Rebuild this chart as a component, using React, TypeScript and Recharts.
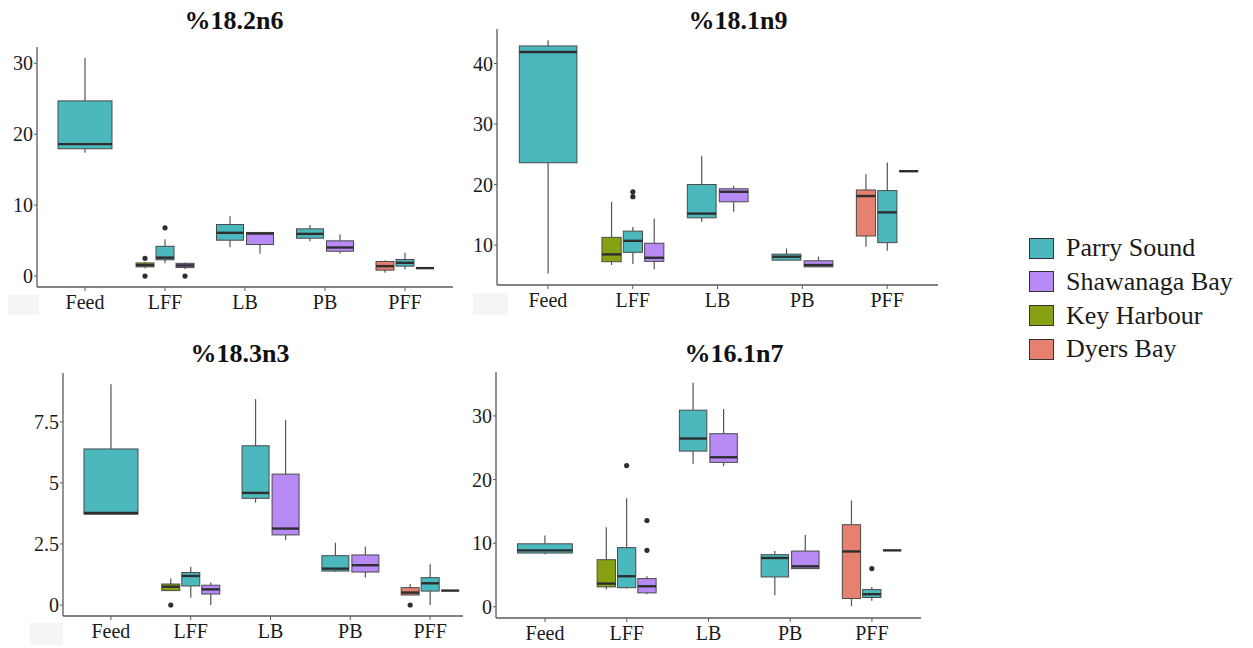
import React from 'react';
import { ComposedChart, Bar, XAxis, YAxis } from 'recharts';

// ---------- data ----------
const categories = ['Feed', 'LFF', 'LB', 'PB', 'PFF'];
const groups = ['Dyers Bay', 'Key Harbour', 'Parry Sound', 'Shawanaga Bay'];
const legendOrder = ['Parry Sound', 'Shawanaga Bay', 'Key Harbour', 'Dyers Bay'];
const panelTitles = ['%18.2n6', '%18.1n9', '%18.3n3', '%16.1n7'];

// [category, group, lowerWhisker, q1, median, q3, upperWhisker, outliers]
type BoxRow = [string, string, number, number, number, number, number, number[]];

const box18_2n6: BoxRow[] = [
  ['Feed', 'Parry Sound', 17.4, 17.95, 18.6, 24.7, 30.8, []],
  ['LFF', 'Key Harbour', 1.1, 1.3, 1.55, 1.85, 2.0, [2.5, 0]],
  ['LFF', 'Parry Sound', 1.8, 2.3, 2.6, 4.2, 5.2, [6.8]],
  ['LFF', 'Shawanaga Bay', 1.0, 1.2, 1.5, 1.8, 1.9, [0]],
  ['LB', 'Parry Sound', 4.08, 5.06, 6.1, 7.27, 8.44, []],
  ['LB', 'Shawanaga Bay', 3.14, 4.45, 6.0, 6.15, 6.15, []],
  ['PB', 'Parry Sound', 4.9, 5.34, 5.95, 6.66, 7.2, []],
  ['PB', 'Shawanaga Bay', 3.2, 3.5, 4.03, 4.97, 5.86, []],
  ['PFF', 'Dyers Bay', 0.47, 0.84, 1.4, 2.06, 2.2, []],
  ['PFF', 'Parry Sound', 0.94, 1.4, 1.87, 2.34, 3.28, []],
  ['PFF', 'Shawanaga Bay', 1.12, 1.12, 1.12, 1.12, 1.12, []],
];

const box18_1n9: BoxRow[] = [
  ['Feed', 'Parry Sound', 5.3, 23.6, 41.9, 42.9, 43.85, []],
  ['LFF', 'Key Harbour', 6.7, 7.25, 8.46, 11.27, 17.15, []],
  ['LFF', 'Parry Sound', 6.86, 8.8, 10.7, 12.3, 13.0, [18.8, 18.0]],
  ['LFF', 'Shawanaga Bay', 6.0, 7.3, 7.9, 10.3, 14.4, []],
  ['LB', 'Parry Sound', 13.85, 14.5, 15.2, 20.0, 24.75, []],
  ['LB', 'Shawanaga Bay', 15.5, 17.15, 18.8, 19.3, 19.8, []],
  ['PB', 'Parry Sound', 7.5, 7.5, 8.07, 8.5, 9.45, []],
  ['PB', 'Shawanaga Bay', 6.4, 6.4, 6.7, 7.4, 8.07, []],
  ['PFF', 'Dyers Bay', 9.7, 11.5, 18.1, 19.1, 21.7, []],
  ['PFF', 'Parry Sound', 9.06, 10.4, 15.4, 19.0, 23.65, []],
  ['PFF', 'Shawanaga Bay', 22.2, 22.2, 22.2, 22.2, 22.2, []],
];

const box18_3n3: BoxRow[] = [
  ['Feed', 'Parry Sound', 3.72, 3.72, 3.77, 6.39, 9.04, []],
  ['LFF', 'Key Harbour', 0.59, 0.59, 0.75, 0.86, 1.09, [0]],
  ['LFF', 'Parry Sound', 0.3, 0.78, 1.19, 1.33, 1.57, []],
  ['LFF', 'Shawanaga Bay', 0.0, 0.45, 0.64, 0.81, 0.92, []],
  ['LB', 'Parry Sound', 4.19, 4.37, 4.59, 6.52, 8.43, []],
  ['LB', 'Shawanaga Bay', 2.66, 2.87, 3.13, 5.36, 7.58, []],
  ['PB', 'Parry Sound', 1.35, 1.39, 1.49, 2.02, 2.55, []],
  ['PB', 'Shawanaga Bay', 1.13, 1.35, 1.63, 2.05, 2.39, []],
  ['PFF', 'Dyers Bay', 0.41, 0.41, 0.51, 0.71, 0.86, [0]],
  ['PFF', 'Parry Sound', 0.0, 0.57, 0.89, 1.12, 1.67, []],
  ['PFF', 'Shawanaga Bay', 0.59, 0.59, 0.59, 0.59, 0.59, []],
];

const box16_1n7: BoxRow[] = [
  ['Feed', 'Parry Sound', 8.24, 8.45, 8.87, 9.9, 11.2, []],
  ['LFF', 'Key Harbour', 2.7, 3.13, 3.65, 7.4, 12.5, []],
  ['LFF', 'Parry Sound', 2.87, 3.0, 4.8, 9.3, 17.05, [22.2]],
  ['LFF', 'Shawanaga Bay', 1.98, 2.19, 3.23, 4.43, 4.8, [13.56, 8.87]],
  ['LB', 'Parry Sound', 22.5, 24.47, 26.45, 30.9, 35.2, []],
  ['LB', 'Shawanaga Bay', 22.07, 22.7, 23.5, 27.2, 31.1, []],
  ['PB', 'Parry Sound', 1.83, 4.69, 7.67, 8.19, 8.76, []],
  ['PB', 'Shawanaga Bay', 6.0, 6.0, 6.36, 8.76, 11.3, []],
  ['PFF', 'Dyers Bay', 0.1, 1.3, 8.7, 12.9, 16.7, []],
  ['PFF', 'Parry Sound', 0.94, 1.46, 1.98, 2.71, 3.13, [6.0]],
  ['PFF', 'Shawanaga Bay', 8.87, 8.87, 8.87, 8.87, 8.87, []],
];

const yTicks18_2n6 = [0, 10, 20, 30];
const yTicks18_1n9 = [10, 20, 30, 40];
const yTicks18_3n3 = [0, 2.5, 5, 7.5];
const yTicks16_1n7 = [0, 10, 20, 30];

const yDomain18_2n6: [number, number] = [-1.54, 32.3];
const yDomain18_1n9: [number, number] = [3.4, 45.7];
const yDomain18_3n3: [number, number] = [-0.45, 9.5];
const yDomain16_1n7: [number, number] = [-1.76, 36.9];

// ---------- styles ----------
const groupColors: Record<string, string> = {
  'Parry Sound': '#4BB8BE',
  'Shawanaga Bay': '#B88AF5',
  'Key Harbour': '#86A213',
  'Dyers Bay': '#E6806F',
};
const FONT = '"Liberation Serif", "Times New Roman", serif';
const AXIS = '#5a5a5a';

function buildRows(boxes: BoxRow[]) {
  return categories.map((cat) => {
    const inCat = boxes
      .filter((b) => b[0] === cat)
      .sort((a, b) => groups.indexOf(a[1]) - groups.indexOf(b[1]));
    const vals: number[] = [];
    inCat.forEach((b) => {
      vals.push(b[2], b[6], ...b[7]);
    });
    const lo = Math.min(...vals);
    const hi = Math.max(...vals);
    return {
      cat,
      range: [lo, hi],
      boxes: inCat.map((b) => ({
        group: b[1], lo: b[2], q1: b[3], med: b[4], q3: b[5], hi: b[6], out: b[7],
      })),
    };
  });
}

const BoxShape = (props: any) => {
  const { x, y, width, height } = props;
  const entry = props.payload && props.payload.boxes ? props.payload : props;
  if (!entry || !entry.boxes) return null;
  const [rlo, rhi] = entry.range;
  const top = Math.min(y, y + height);
  const h = Math.abs(height);
  const py = (v: number) => top + ((rhi - v) / (rhi - rlo)) * h;
  const n = entry.boxes.length;
  const slot = width / n;
  return (
    <g>
      {entry.boxes.map((b: any, i: number) => {
        const cx = x + slot * (i + 0.5);
        const bw = slot * 0.9;
        const x0 = cx - bw / 2;
        const yq3 = py(b.q3);
        const yq1 = py(b.q1);
        return (
          <g key={i}>
            <line x1={cx} x2={cx} y1={py(b.hi)} y2={yq3} stroke="#555" strokeWidth={1.2} />
            <line x1={cx} x2={cx} y1={yq1} y2={py(b.lo)} stroke="#555" strokeWidth={1.2} />
            <rect x={x0} y={yq3} width={bw} height={Math.max(0, yq1 - yq3)}
              fill={groupColors[b.group]} stroke="#4a4a4a" strokeWidth={1} />
            <line x1={x0} x2={x0 + bw} y1={py(b.med)} y2={py(b.med)} stroke="#2e2e2e" strokeWidth={2.4} />
            {b.out.map((o: number, j: number) => (
              <circle key={j} cx={cx} cy={py(o)} r={2.6} fill="#2e2e2e" />
            ))}
          </g>
        );
      })}
    </g>
  );
};

type PanelProps = {
  boxes: BoxRow[];
  ticks: number[];
  domain: [number, number];
  width: number;
  height: number;
  top: number;
  right: number;
  yWidth: number;
  xHeight: number;
  padX: number;
};

const Panel = ({ boxes, ticks, domain, width, height, top, right, yWidth, xHeight, padX }: PanelProps) => {
  const rows = buildRows(boxes);
  return (
    <ComposedChart width={width} height={height} data={rows}
      margin={{ top, right, left: 0, bottom: 0 }} barCategoryGap="12.5%">
      <XAxis dataKey="cat" type="category" height={xHeight} padding={{ left: padX, right: padX }}
        axisLine={{ stroke: AXIS, strokeWidth: 1.3 }} tickLine={{ stroke: AXIS }} tickSize={4} tickMargin={4}
        tick={{ fill: '#1a1a1a', fontSize: 20, fontFamily: FONT }} interval={0} />
      <YAxis type="number" domain={domain} ticks={ticks} width={yWidth} allowDataOverflow
        axisLine={{ stroke: AXIS, strokeWidth: 1.3 }} tickLine={{ stroke: AXIS }} tickSize={3} tickMargin={1}
        tick={{ fill: '#1a1a1a', fontSize: 20, fontFamily: FONT }} />
      <Bar dataKey="range" shape={BoxShape} isAnimationActive={false} />
    </ComposedChart>
  );
};

const Title = ({ text, cx, top }: { text: string; cx: number; top: number }) => (
  <div style={{
    position: 'absolute', left: cx - 150, top, width: 300, textAlign: 'center',
    fontFamily: FONT, fontWeight: 'bold', fontSize: 26, lineHeight: '26px', color: '#111',
  }}>{text}</div>
);

const Faint = ({ l, t, w, h }: { l: number; t: number; w: number; h: number }) => (
  <div style={{ position: 'absolute', left: l, top: t, width: w, height: h, background: '#f5f5f5' }} />
);

export default function App() {
  return (
    <div style={{ position: 'relative', width: 1253, height: 648, background: '#fff', overflow: 'hidden' }}>
      <style>{`body{margin:0;}`}</style>
      <Faint l={8} t={295} w={31} h={20} />
      <Faint l={473} t={293} w={35} h={22} />
      <Faint l={30} t={623} w={33} h={22} />

      <div style={{ position: 'absolute', left: 0, top: 0 }}>
        <Panel boxes={box18_2n6} ticks={yTicks18_2n6} domain={yDomain18_2n6}
          width={460} height={320} top={47} right={7} yWidth={37} xHeight={33} padX={8} />
      </div>
      <div style={{ position: 'absolute', left: 460, top: 0 }}>
        <Panel boxes={box18_1n9} ticks={yTicks18_1n9} domain={yDomain18_1n9}
          width={480} height={320} top={29} right={2} yWidth={37} xHeight={35} padX={8.5} />
      </div>
      <div style={{ position: 'absolute', left: 0, top: 320, width: 463, height: 328, overflow: 'hidden' }}>
        <Panel boxes={box18_3n3} ticks={yTicks18_3n3} domain={yDomain18_3n3}
          width={480} height={328} top={53} right={2} yWidth={63} xHeight={32} padX={8} />
      </div>
      <div style={{ position: 'absolute', left: 460, top: 320 }}>
        <Panel boxes={box16_1n7} ticks={yTicks16_1n7} domain={yDomain16_1n7}
          width={480} height={328} top={52} right={19} yWidth={36} xHeight={30} padX={8.2} />
      </div>

      <Title text={panelTitles[0]} cx={234} top={8} />
      <Title text={panelTitles[1]} cx={738} top={8} />
      <Title text={panelTitles[2]} cx={240} top={341} />
      <Title text={panelTitles[3]} cx={734} top={341} />

      {legendOrder.map((g, i) => (
        <div key={g} style={{ position: 'absolute', left: 1029, top: 237 + i * 33.8, height: 22, display: 'flex', alignItems: 'center' }}>
          <div style={{ width: 23, height: 19, background: groupColors[g], border: '1.5px solid #333' }} />
          <div style={{ marginLeft: 12, fontFamily: FONT, fontSize: 26, lineHeight: '22px', color: '#1a1a1a', whiteSpace: 'nowrap' }}>{g}</div>
        </div>
      ))}
    </div>
  );
}
